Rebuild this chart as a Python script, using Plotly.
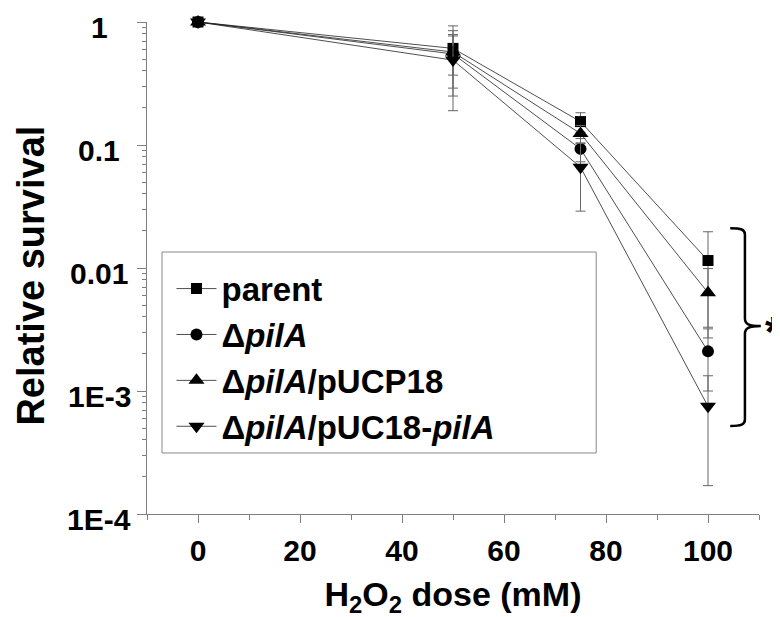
import math
import plotly.graph_objects as go

# H2O2 dose (mM)
dose = [0, 50, 75, 100]

# relative survival, mean and error per strain
parent = [1.0, 0.61, 0.155, 0.0115]
parent_err = [0.0, 0.32, 0.028, 0.0082]
pila = [1.0, 0.55, 0.093, 0.0021]
pila_err = [0.0, 0.30, 0.020, 0.0011]
pucp18 = [1.0, 0.57, 0.124, 0.0063]
pucp18_err = [0.0, 0.20, 0.020, 0.0036]
puc18_pila = [1.0, 0.49, 0.066, 0.00075]
puc18_pila_err = [0.0, 0.30, 0.037, 0.00058]

names = ["parent", "\u0394<i>pilA</i>", "\u0394<i>pilA</i>/pUCP18", "\u0394<i>pilA</i>/pUC18-<i>pilA</i>"]
symbols = ["square", "circle", "triangle-up", "triangle-down"]
sizes = [11, 12, 14, 14]

y_ticks = [1, 0.1, 0.01, 0.001, 0.0001]
y_ticktext = ["1", "0.1", "0.01", "1E-3", "1E-4"]
y_minor = [m * 10 ** e for e in range(-4, 0) for m in range(2, 10)]

FONT = "Liberation Sans, Arial, sans-serif"
AX = "#7f7f7f"

fig = go.Figure()
series = [(parent, parent_err), (pila, pila_err), (pucp18, pucp18_err), (puc18_pila, puc18_pila_err)]
for (vals, errs), name, sym, sz in zip(series, names, symbols, sizes):
    fig.add_trace(go.Scatter(
        x=dose, y=vals, name=name, mode="lines+markers",
        line=dict(color="#222", width=0.8),
        marker=dict(symbol=sym, size=sz, color="black"),
        error_y=dict(type="data", array=errs, color="#666", thickness=1, width=5),
        cliponaxis=False,
    ))

# y tick labels are centred in the reference, so they are placed as annotations
for v, t in zip(y_ticks, y_ticktext):
    fig.add_annotation(text=t, xref="paper", yref="y", x=-0.078, y=math.log10(v),
                       xanchor="center", yanchor="middle", yshift=-5, showarrow=False,
                       font=dict(size=30, family=FONT, weight="bold", color="black"))
fig.add_annotation(text="Relative survival", xref="paper", yref="paper", x=-0.19, y=0.484,
                   xanchor="center", yanchor="middle", textangle=-90, showarrow=False,
                   font=dict(size=38, family=FONT, weight="bold", color="black"))

# legend frame
fig.add_shape(type="rect", xref="paper", yref="paper", x0=0.0245, x1=0.734, y0=0.124, y1=0.5325,
              line=dict(color="#888", width=1), fillcolor="white", layer="below")

# significance bracket and star
fig.add_shape(type="path", xref="paper", yref="paper",
              path="M 0.953 0.581 C 0.971 0.581 0.977 0.578 0.977 0.568 L 0.977 0.398 "
                   "C 0.977 0.386 0.983 0.382 1.003 0.382 C 0.983 0.382 0.977 0.378 0.977 0.366 "
                   "L 0.977 0.192 C 0.977 0.182 0.971 0.179 0.953 0.179",
              line=dict(color="black", width=2.5))
fig.add_annotation(text="*", xref="paper", yref="paper", x=1.007, y=0.37,
                   xanchor="left", yanchor="middle", showarrow=False,
                   font=dict(size=42, family=FONT, weight="bold", color="black"))

fig.update_layout(
    width=780, height=617,
    margin=dict(l=139, r=29, t=14, b=111, autoexpand=False),
    plot_bgcolor="white", paper_bgcolor="white",
    font=dict(family=FONT, color="black", size=30, weight="bold"),
    legend=dict(
        x=0.04, y=0.515, xanchor="left", yanchor="top",
        borderwidth=0, bgcolor="rgba(0,0,0,0)",
        font=dict(size=33, family=FONT, weight="bold"),
        itemwidth=40, tracegroupgap=0,
    ),
    xaxis=dict(
        range=[-10, 110], tickvals=[0, 20, 40, 60, 80, 100], automargin=False,
        showline=True, linecolor=AX, linewidth=1, ticks="outside", ticklen=8,
        tickcolor=AX, showgrid=False, zeroline=False, ticklabelstandoff=2,
        minor=dict(tickvals=[-10, 10, 30, 50, 70, 90, 110], ticks="outside", ticklen=5, tickcolor=AX),
        tickfont=dict(size=30),
        title=dict(text="H<sub>2</sub>O<sub>2</sub> dose (mM)", font=dict(size=34), standoff=16),
    ),
    yaxis=dict(
        type="log", range=[-4, 0], tickvals=y_ticks, showticklabels=False, automargin=False,
        showline=True, linecolor=AX, linewidth=1, ticks="outside", ticklen=9,
        tickcolor=AX, showgrid=False, zeroline=False,
        minor=dict(tickvals=y_minor, ticks="outside", ticklen=4, tickcolor=AX),
    ),
)

fig.write_html("out.html")
